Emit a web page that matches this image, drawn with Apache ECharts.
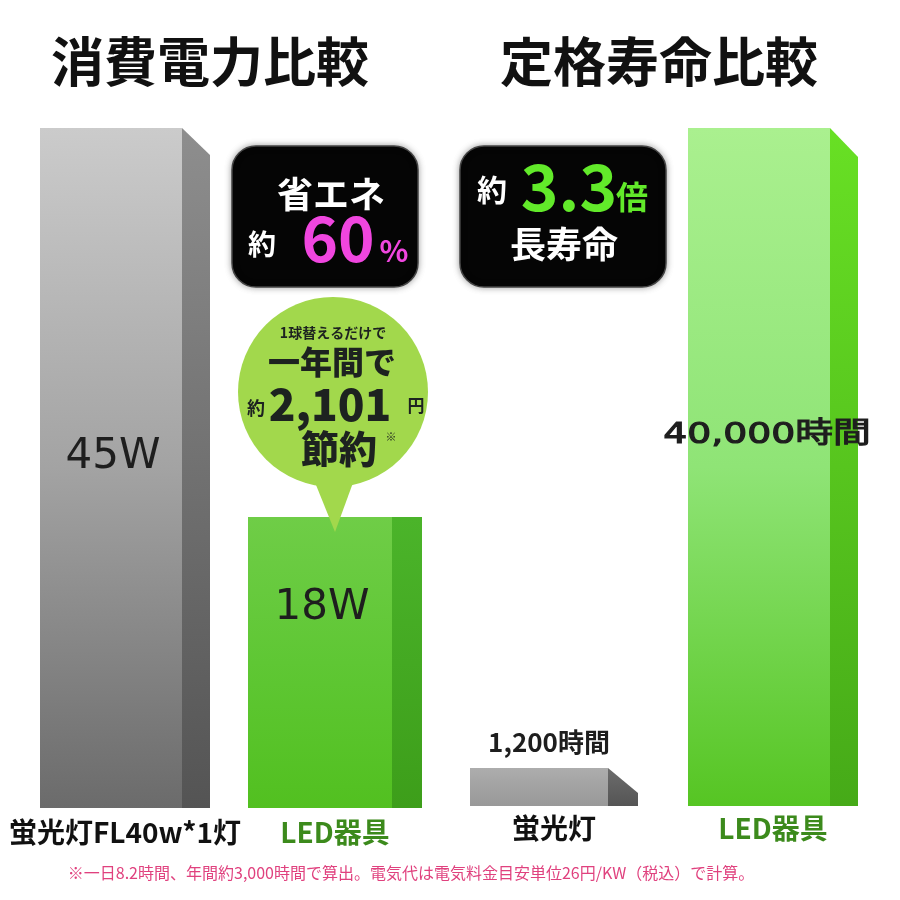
<!DOCTYPE html>
<html><head><meta charset="utf-8">
<script src="https://cdn.jsdelivr.net/npm/echarts@6/dist/echarts.min.js"></script>
<style>html,body{margin:0;padding:0;background:#fff}#c{width:900px;height:900px}</style>
</head><body><div id="c"></div>
<script>
// ---- data ----
const powerCategories = ['蛍光灯FL40w*1灯', 'LED器具'];
const powerValues = [45, 18];
const powerLabels = ['45W', '18W'];
const lifeCategories = ['蛍光灯', 'LED器具'];
const lifeValues = [1200, 40000];
const lifeLabels = ['1,200時間', '40,000時間'];

// ---- styles / layout ----
const JP = '"Noto Sans CJK JP", "Noto Sans", sans-serif';
const powerStyle = [
  {frontW:142, dx:28, dy:27, front:['#cbcbcb','#a3a3a3','#6b6b6b'], side:['#8e8e8e','#545454'],
   labelFrac:0.484, labelOff:0, labelDx:-12, font:'normal 42px "DejaVu Sans"', scaleX:1, stroke:0},
  {frontW:144, dx:30, dy:0, front:['#6fcd47','#5fc734','#52c020'], side:['#4bb42a','#3d9e1a'],
   labelFrac:0.313, labelOff:0, labelDx:-13, font:'normal 42px "DejaVu Sans"', scaleX:1, stroke:0}
];
const lifeStyle = [
  {frontW:138, dx:30, dy:25, front:['#adadad','#a2a2a2','#999999'], side:['#6c6c6c','#555555'],
   labelFrac:0, labelOff:-26, labelDx:-5, font:'bold 26px ' + JP, scaleX:1, stroke:0},
  {frontW:142, dx:28, dy:29, front:['#aaf08f','#8fe476','#56c523'], side:['#68e024','#46aa18'],
   labelFrac:0.453, labelOff:0, labelDx:-6, font:'normal 29px "DejaVu Sans", ' + JP, scaleX:1.3, stroke:1.1}
];
const powerMin = -2.2, powerMax = 45;
const lifeMin = -1100, lifeMax = 40000;

function grad(stops) {
  return new echarts.graphic.LinearGradient(0, 0, 0, 1,
    stops.map((c, k) => ({offset: k / (stops.length - 1), color: c})));
}

function makeRender(styles, labels, yMin) {
  return function (params, api) {
    const i = params.dataIndex;
    const s = styles[i];
    const cat = api.value(0), val = api.value(1);
    const topPt = api.coord([cat, val]);
    const basePt = api.coord([cat, yMin]);
    const cx = topPt[0];
    const left = cx - (s.frontW + s.dx) / 2;
    const right = left + s.frontW;
    const top = topPt[1], bottom = basePt[1];
    const h = bottom - top;
    const ly = s.labelFrac ? top + h * s.labelFrac : top + s.labelOff;
    const ts = {text: labels[i], font: s.font, fill: '#1e1e1e', align: 'center', verticalAlign: 'middle'};
    if (s.stroke) { ts.stroke = '#1e1e1e'; ts.lineWidth = s.stroke; }
    return {
      type: 'group',
      children: [
        {type: 'rect', shape: {x: left, y: top, width: s.frontW, height: h},
         style: {fill: grad(s.front)}},
        {type: 'polygon', shape: {points: [[right, top], [right + s.dx, top + s.dy], [right + s.dx, bottom], [right, bottom]]},
         style: {fill: grad(s.side)}},
        {type: 'text', x: cx + s.labelDx, y: ly, scaleX: s.scaleX, style: ts}
      ]
    };
  };
}

const chart = echarts.init(document.getElementById('c'), null, {renderer: 'canvas'});
const catLabelColor = (v, idx) => (idx === 0 ? '#111111' : '#3c8a1c');

const txt = (t, x, y, size, color, weight) => ({
  type: 'text', x: x, y: y, z: 110,
  style: {text: t, fill: color, align: 'center', verticalAlign: 'middle',
          font: (weight || 'bold') + ' ' + size + 'px ' + JP}
});

const option = {
  backgroundColor: '#ffffff',
  animation: false,
  grid: [
    {left: 20, width: 420, top: 128, height: 680},
    {left: 444.5, width: 438, top: 128, height: 678}
  ],
  xAxis: [
    {type: 'category', gridIndex: 0, data: powerCategories,
     axisLine: {show: false}, axisTick: {show: false}, splitLine: {show: false},
     axisLabel: {interval: 0, hideOverlap: false, margin: 10, fontSize: 28, fontWeight: 'bold', fontFamily: JP,
                 color: catLabelColor}},
    {type: 'category', gridIndex: 1, data: lifeCategories,
     axisLine: {show: false}, axisTick: {show: false}, splitLine: {show: false},
     axisLabel: {interval: 0, hideOverlap: false, margin: 8, fontSize: 28, fontWeight: 'bold', fontFamily: JP,
                 color: catLabelColor}}
  ],
  yAxis: [
    {type: 'value', gridIndex: 0, min: powerMin, max: powerMax, show: false},
    {type: 'value', gridIndex: 1, min: lifeMin, max: lifeMax, show: false}
  ],
  series: [
    {type: 'custom', xAxisIndex: 0, yAxisIndex: 0, encode: {x: 0, y: 1},
     data: powerValues.map((v, i) => [i, v]),
     renderItem: makeRender(powerStyle, powerLabels, powerMin)},
    {type: 'custom', xAxisIndex: 1, yAxisIndex: 1, encode: {x: 0, y: 1},
     data: lifeValues.map((v, i) => [i, v]),
     renderItem: makeRender(lifeStyle, lifeLabels, lifeMin)}
  ],
  graphic: [
    txt('消費電力比較', 210, 62, 53, '#111111'),
    txt('定格寿命比較', 659, 62, 53, '#111111'),
    // black badge 1
    {type: 'rect', z: 100, shape: {x: 232, y: 146, width: 186, height: 141, r: 24},
     style: {fill: '#050505', stroke: '#444', lineWidth: 1.5, shadowBlur: 6, shadowColor: 'rgba(0,0,0,0.35)'}},
    txt('省エネ', 331, 194, 36, '#ffffff'),
    txt('約', 262, 244, 28, '#ffffff'),
    txt('60', 338, 238, 62, '#f046df'),
    txt('%', 394, 251, 30, '#f046df'),
    // black badge 2
    {type: 'rect', z: 100, shape: {x: 460, y: 146, width: 206, height: 141, r: 24},
     style: {fill: '#050505', stroke: '#444', lineWidth: 1.5, shadowBlur: 6, shadowColor: 'rgba(0,0,0,0.35)'}},
    txt('約', 492, 190, 30, '#ffffff'),
    txt('3.3', 569, 187, 64, '#62ea2a'),
    txt('倍', 632, 197, 32, '#62ea2a'),
    txt('長寿命', 564, 244, 36, '#ffffff'),
    // speech bubble
    {type: 'circle', z: 100, shape: {cx: 333, cy: 392, r: 95}, style: {fill: '#a2d84c'}},
    {type: 'polygon', z: 100, shape: {points: [[314, 480], [354, 480], [335, 532]]}, style: {fill: '#a2d84c'}},
    txt('1球替えるだけで', 333, 333, 14, '#1d2220'),
    txt('一年間で', 332, 362, 32, '#1d2220', '900'),
    txt('約', 256, 408, 18, '#1d2220'),
    txt('2,101', 330, 404, 44, '#1d2220', '900'),
    txt('円', 416, 406, 17, '#1d2220'),
    txt('節約', 339, 449, 38, '#1d2220', '900'),
    txt('※', 391, 437, 11, '#1d2220', 'normal'),
    // footnote
    txt('※一日8.2時間、年間約3,000時間で算出。電気代は電気料金目安単位26円/KW（税込）で計算。', 411, 873, 16, '#e0417e', 'normal')
  ]
};
chart.setOption(option);
</script>
</body></html>
